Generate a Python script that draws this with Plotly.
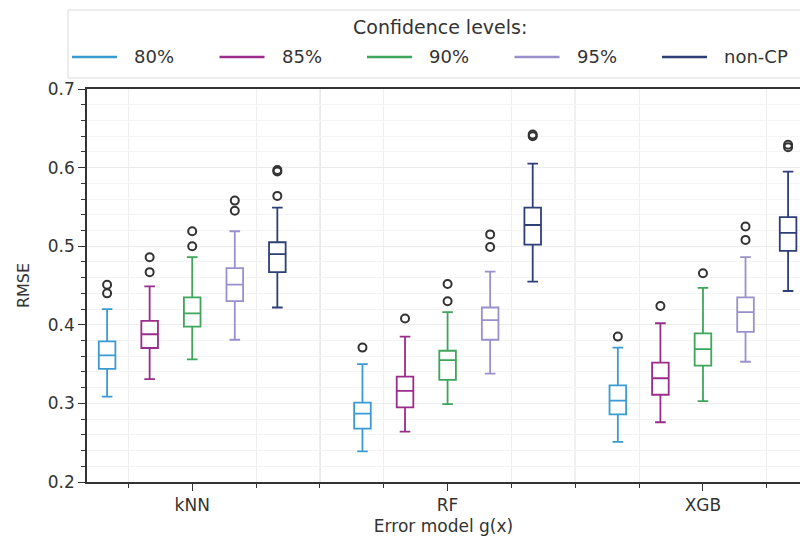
import plotly.graph_objects as go

models = ["kNN", "RF", "XGB"]
levels = ["80%", "85%", "90%", "95%", "non-CP"]
colors = ["#3b9bd0", "#9a2c8c", "#3ea55a", "#9990cc", "#2d3f76"]

# per level: values for kNN, RF, XGB
lower = {
    "80%": [0.3085, 0.239, 0.251],
    "85%": [0.331, 0.264, 0.276],
    "90%": [0.356, 0.299, 0.303],
    "95%": [0.381, 0.338, 0.353],
    "non-CP": [0.422, 0.455, 0.443],
}
q1 = {
    "80%": [0.344, 0.268, 0.286],
    "85%": [0.3705, 0.295, 0.311],
    "90%": [0.3976, 0.330, 0.348],
    "95%": [0.430, 0.381, 0.391],
    "non-CP": [0.467, 0.502, 0.494],
}
median = {
    "80%": [0.361, 0.287, 0.3035],
    "85%": [0.388, 0.316, 0.332],
    "90%": [0.4146, 0.355, 0.369],
    "95%": [0.451, 0.406, 0.416],
    "non-CP": [0.490, 0.527, 0.517],
}
q3 = {
    "80%": [0.379, 0.301, 0.323],
    "85%": [0.405, 0.334, 0.352],
    "90%": [0.435, 0.367, 0.389],
    "95%": [0.472, 0.422, 0.435],
    "non-CP": [0.505, 0.549, 0.537],
}
upper = {
    "80%": [0.420, 0.350, 0.371],
    "85%": [0.449, 0.385, 0.402],
    "90%": [0.486, 0.416, 0.447],
    "95%": [0.519, 0.4676, 0.486],
    "non-CP": [0.549, 0.605, 0.595],
}
outliers = {
    "80%": [[0.440, 0.451], [0.371], [0.385]],
    "85%": [[0.467, 0.486], [0.408], [0.424]],
    "90%": [[0.500, 0.519], [0.430, 0.452], [0.4655]],
    "95%": [[0.545, 0.558], [0.499, 0.515], [0.508, 0.525]],
    "non-CP": [[0.564, 0.595, 0.597], [0.640, 0.642], [0.626, 0.629]],
}
legend_title = "Confidence levels:"

FONT = "DejaVu Sans"
TXT = "#333333"
W, H = 800, 541
ML, MR, MT, MB = 87, 0, 89, 59
PW, PH = W - ML - MR, H - MT - MB


def px_x(p):
    return (p - ML) / PW


def px_y(p):
    return (H - MB - p) / PH


n_lev = len(levels)
step = 1.0 / 6.0

fig = go.Figure()
for j, lev in enumerate(levels):
    off = (j - (n_lev - 1) / 2) * step
    xs = [i + off for i in range(len(models))]
    fig.add_trace(go.Box(
        x=xs, q1=q1[lev], median=median[lev], q3=q3[lev],
        lowerfence=lower[lev], upperfence=upper[lev],
        width=0.065, whiskerwidth=0.64, name=lev,
        line=dict(color=colors[j], width=1.8),
        fillcolor="rgba(255,255,255,1)",
        boxpoints=False, showlegend=False, hoverinfo="skip",
    ))
    ox, oy = [], []
    for i, vals in enumerate(outliers[lev]):
        for v in vals:
            ox.append(i + off)
            oy.append(v)
    fig.add_trace(go.Scatter(
        x=ox, y=oy, mode="markers", showlegend=False, name=lev,
        marker=dict(symbol="circle-open", size=8, color="#333333",
                    line=dict(width=2, color="#333333")),
    ))

minor_x = []
for i in range(-1, len(models) + 1):
    for d in (-0.25, 0.25, 0.5):
        minor_x.append(i + d)

for i in range(len(models) - 1):
    fig.add_shape(type="line", xref="x", yref="paper", x0=i + 0.5, x1=i + 0.5,
                  y0=0, y1=1, line=dict(color="#d4d4d4", width=1.2), layer="below")

# manual legend (matplotlib-style, single row with title on top)
fig.add_shape(type="rect", xref="paper", yref="paper",
              x0=px_x(68), x1=px_x(814), y0=px_y(78), y1=px_y(10),
              line=dict(color="#d9d9d9", width=1), fillcolor="white", layer="above")
fig.add_annotation(xref="paper", yref="paper", x=px_x(440), y=px_y(27),
                   text=legend_title, showarrow=False, xanchor="center", yanchor="middle",
                   font=dict(family=FONT, size=19, color=TXT))
pitch = 147.5
for j, lev in enumerate(levels):
    x0 = 72 + j * pitch
    fig.add_shape(type="line", xref="paper", yref="paper",
                  x0=px_x(x0), x1=px_x(x0 + 45), y0=px_y(57), y1=px_y(57),
                  line=dict(color=colors[j], width=2.4), layer="above")
    fig.add_annotation(xref="paper", yref="paper", x=px_x(x0 + 60), y=px_y(57),
                       text=lev, showarrow=False, xanchor="left", yanchor="middle",
                       font=dict(family=FONT, size=18, color=TXT))

fig.update_layout(
    width=W, height=H, autosize=False,
    margin=dict(l=ML, r=MR, t=MT, b=MB),
    paper_bgcolor="white", plot_bgcolor="white",
    boxmode="overlay", showlegend=False,
    font=dict(family=FONT, size=17, color=TXT),
    xaxis=dict(
        range=[-0.412, 2.38], tickmode="array", tickvals=list(range(len(models))),
        ticktext=models, ticks="outside", ticklen=7, tickwidth=1.2, tickcolor=TXT,
        showline=True, linecolor=TXT, linewidth=1.5, mirror=True,
        showgrid=False, zeroline=False,
        minor=dict(tickmode="array", tickvals=minor_x, ticks="outside", ticklen=4,
                   tickcolor=TXT, showgrid=True, gridcolor="#efefef", gridwidth=1),
        title=dict(text="Error model g(x)", font=dict(family=FONT, size=17, color=TXT),
                   standoff=6),
        tickfont=dict(family=FONT, size=17, color=TXT),
    ),
    yaxis=dict(
        range=[0.2, 0.7], dtick=0.1, tick0=0.2, tickformat=".1f",
        ticks="outside", ticklen=7, tickwidth=1.2, tickcolor=TXT,
        showline=True, linecolor=TXT, linewidth=1.5, mirror=False,
        showgrid=True, gridcolor="#ececec", zeroline=False,
        minor=dict(dtick=0.02, ticks="outside", ticklen=4, tickcolor=TXT,
                   showgrid=True, gridcolor="#f4f4f4"),
        title=dict(text="RMSE", font=dict(family=FONT, size=16, color=TXT), standoff=14),
        tickfont=dict(family=FONT, size=17, color=TXT),
    ),
)

fig.write_html("out.html")
